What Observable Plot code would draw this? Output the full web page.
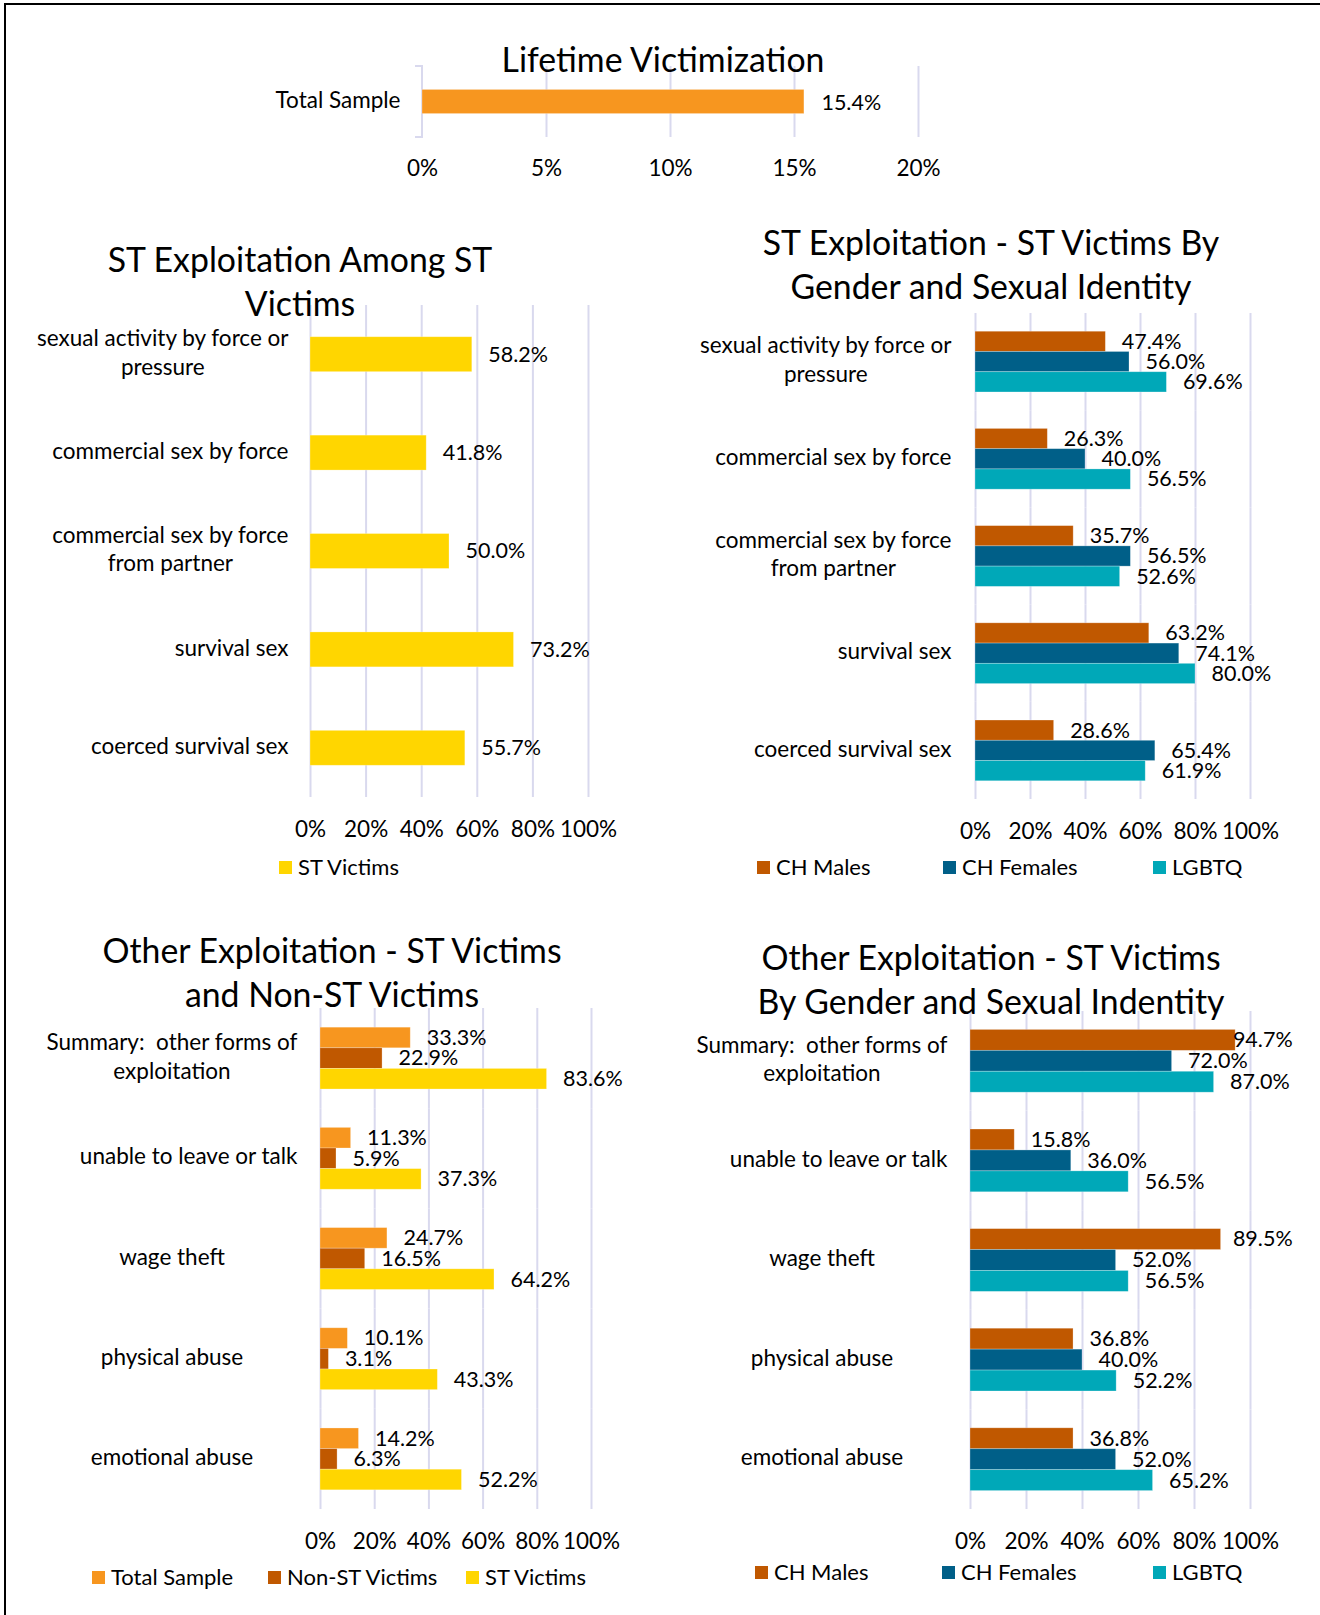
<!DOCTYPE html>
<html>
<head>
<meta charset="utf-8">
<script src="https://cdn.jsdelivr.net/npm/d3@7"></script>
<script src="https://cdn.jsdelivr.net/npm/@observablehq/plot@0.6"></script>
<style>
html, body { margin: 0; padding: 0; background: #fff; }
#page { position: relative; width: 1320px; height: 1615px; overflow: hidden; font-family: Lato, "Noto Sans", sans-serif; color: #000; background: #fff; }
.frameline { position: absolute; left: 4px; top: 3px; width: 1316px; height: 1612px; border-top: 2px solid #000; border-left: 2px solid #000; box-sizing: border-box; }
.title { position: absolute; width: 700px; text-align: center; font-size: 33.8px; line-height: 44px; white-space: nowrap; }
.panel { position: absolute; }
.leg { position: absolute; height: 26px; font-size: 22px; line-height: 26px; display: flex; align-items: center; white-space: nowrap; }
.leg .sw { display: inline-block; width: 13px; height: 13px; margin-right: 6px; }
</style>
</head>
<body>
<div id="page"><div class="frameline"></div></div>
<script>
// ---------------- DATA ----------------
const lifetimeCategories = ["Total Sample"];
const lifetimeValues = [15.4];
const lifetimeTicks = [0, 5, 10, 15, 20];

const stCategories = [
  "sexual activity by force or\npressure",
  "commercial sex by force",
  "commercial sex by force\nfrom partner",
  "survival sex",
  "coerced survival sex"
];
const stVictimsValues = [58.2, 41.8, 50.0, 73.2, 55.7];

const stGenderMales = [47.4, 26.3, 35.7, 63.2, 28.6];
const stGenderFemales = [56.0, 40.0, 56.5, 74.1, 65.4];
const stGenderLGBTQ = [69.6, 56.5, 52.6, 80.0, 61.9];

const otherCategories = [
  "Summary:\u00a0 other forms of\nexploitation",
  "unable to leave or talk",
  "wage theft",
  "physical abuse",
  "emotional abuse"
];
const otherTotalSample = [33.3, 11.3, 24.7, 10.1, 14.2];
const otherNonST = [22.9, 5.9, 16.5, 3.1, 6.3];
const otherSTVictims = [83.6, 37.3, 64.2, 43.3, 52.2];

const otherMales = [94.7, 15.8, 89.5, 36.8, 36.8];
const otherFemales = [72.0, 36.0, 52.0, 40.0, 52.0];
const otherLGBTQ = [87.0, 56.5, 56.5, 52.2, 65.2];

const pctTicks = [0, 20, 40, 60, 80, 100];

// ---------------- STYLE ----------------
const COL = {
  totalSample: "#F7961F",
  nonST: "#C05800",
  stVictims: "#FFD600",
  chMales: "#C05800",
  chFemales: "#005F88",
  lgbtq: "#00A8B8"
};
const gridColor = "#d9d9ee";
const FONT = "Lato, 'Noto Sans', sans-serif";
const VALUE_FS = 21.5;
const LABEL_DY = -3.5;
const fmt = v => v.toFixed(1) + "%";
const page = document.getElementById("page");

function addTitle(lines, cx, top) {
  const d = document.createElement("div");
  d.className = "title";
  lines.forEach((l, i) => {
    if (i) d.appendChild(document.createElement("br"));
    d.appendChild(document.createTextNode(l));
  });
  d.style.left = (cx - 350) + "px";
  d.style.top = top + "px";
  page.appendChild(d);
}

function addLegend(items, y) {
  items.forEach(({name, color, x}) => {
    const d = document.createElement("div");
    d.className = "leg";
    d.style.left = x + "px";
    d.style.top = (y - 13) + "px";
    const sw = document.createElement("span");
    sw.className = "sw";
    sw.style.background = color;
    d.appendChild(sw);
    d.appendChild(document.createTextNode(name));
    page.appendChild(d);
  });
}

function mount(svg, left, top) {
  const wrap = document.createElement("div");
  wrap.className = "panel";
  wrap.style.left = left + "px";
  wrap.style.top = top + "px";
  wrap.appendChild(svg);
  page.appendChild(wrap);
  return svg;
}

// Excel-like category label layout: block right-aligned, lines centred in block;
// some labels centred in the whole label area.
function alignLabels(svg, categories, centered = []) {
  const norm = s => s.replace(/\n/g, "");
  const keys = categories.map(norm);
  const texts = [...svg.querySelectorAll("text")].filter(t => keys.includes(t.textContent));
  const widthOf = t => {
    const ts = [...t.querySelectorAll("tspan")];
    return ts.length ? Math.max(...ts.map(s => s.getComputedTextLength())) : t.getComputedTextLength();
  };
  const maxAll = Math.max(...texts.map(widthOf));
  texts.forEach(t => {
    const cat = categories[keys.indexOf(t.textContent)];
    const ts = [...t.querySelectorAll("tspan")];
    const isCentered = centered.includes(cat);
    if (ts.length > 1 || isCentered) {
      const w = isCentered ? maxAll : widthOf(t);
      t.setAttribute("text-anchor", "middle");
      if (ts.length) ts.forEach(s => s.setAttribute("x", -w / 2));
      else t.setAttribute("x", -w / 2);
    }
  });
}

const baseStyle = {fontFamily: FONT, fontSize: "22.5px", color: "#000", background: "transparent", overflow: "visible"};
const barStroke = {stroke: "#fff", strokeOpacity: 0.35, strokeWidth: 0.75};

// ---------------- PANEL 1: Lifetime Victimization ----------------
{
  const W = 1320, H = 195, mL = 422, mR = 402, mT = 66, mB = 58;
  const pxPerUnit = (W - mL - mR) / 20;
  const step = H - mT - mB;
  const pad = 0.66;
  const bw = step * (1 - pad);
  const ins = -(step - bw) / 2;
  const tickLen = 7;
  const svg = Plot.plot({
    width: W, height: H, marginLeft: mL, marginRight: mR, marginTop: mT, marginBottom: mB,
    style: baseStyle,
    x: {domain: [0, 20], label: null},
    y: {domain: lifetimeCategories, paddingInner: pad, paddingOuter: pad / 2, round: false, axis: null},
    marks: [
      Plot.gridX(lifetimeTicks.slice(1), {stroke: gridColor, strokeOpacity: 1, strokeWidth: 2}),
      // category axis bracket
      Plot.barX(lifetimeCategories, {y: d => d, x1: -tickLen / pxPerUnit, x2: 0, fill: "none",
        stroke: gridColor, strokeWidth: 2, insetTop: ins, insetBottom: ins,
        strokeDasharray: `${2 * tickLen + step} ${step}`}),
      Plot.barX(lifetimeCategories, {y: d => d, x: (d, i) => lifetimeValues[i], fill: COL.totalSample, ...barStroke}),
      Plot.text(lifetimeCategories, {y: d => d, x: (d, i) => lifetimeValues[i], text: (d, i) => fmt(lifetimeValues[i]),
        textAnchor: "start", dx: 17, dy: 1.5, fontSize: VALUE_FS, fill: "#000"}),
      Plot.text(lifetimeCategories, {y: d => d, text: d => d, frameAnchor: "left", textAnchor: "end", dx: -22,
        dy: -1.5, fill: "#000"}),
      Plot.axisX(lifetimeTicks, {tickSize: 0, tickPadding: 23, tickFormat: d => d + "%", label: null, fill: "#000"})
    ]
  });
  mount(svg, 0, 0);
  addTitle(["Lifetime Victimization"], 663, 37);
}

// ---------------- PANEL 2: ST Exploitation Among ST Victims ----------------
{
  const pad = 0.645;
  const svg = Plot.plot({
    width: 660, height: 580, marginLeft: 310, marginRight: 72, marginTop: 25, marginBottom: 63,
    style: baseStyle,
    x: {domain: [0, 100], label: null},
    y: {domain: stCategories, paddingInner: pad, paddingOuter: pad / 2, round: false, axis: null},
    marks: [
      Plot.gridX(pctTicks, {stroke: gridColor, strokeOpacity: 1, strokeWidth: 2}),
      Plot.barX(stCategories, {y: d => d, x: (d, i) => stVictimsValues[i], fill: COL.stVictims, ...barStroke}),
      Plot.text(stCategories, {y: d => d, x: (d, i) => stVictimsValues[i], text: (d, i) => fmt(stVictimsValues[i]),
        textAnchor: "start", dx: 16, fontSize: VALUE_FS, fill: "#000"}),
      Plot.text(stCategories, {y: d => d, text: d => d, frameAnchor: "left", textAnchor: "end", dx: -22,
        dy: LABEL_DY, lineHeight: 1.27, fill: "#000"}),
      Plot.axisX(pctTicks, {tickSize: 0, tickPadding: 24, tickFormat: d => d + "%", label: null, fill: "#000"})
    ]
  });
  mount(svg, 0, 280);
  alignLabels(svg, stCategories);
  addTitle(["ST Exploitation Among ST", "Victims"], 300, 237);
  addLegend([{name: "ST Victims", color: COL.stVictims, x: 279}], 867);
}

// ---------------- grouped chart helper ----------------
function grouped({categories, series, width, height, marginLeft, marginRight, marginTop, marginBottom,
                  labelGap, padOuter, labelClamp = Infinity}) {
  const data = [];
  categories.forEach((c, i) => series.forEach(s => data.push({category: c, series: s.name, value: s.values[i]})));
  return Plot.plot({
    width, height, marginLeft, marginRight, marginTop, marginBottom,
    style: baseStyle,
    x: {domain: [0, 100], label: null},
    fy: {domain: categories, padding: 0, round: false, axis: null, label: null},
    y: {domain: series.map(s => s.name), paddingInner: 0, paddingOuter: padOuter, round: false, axis: null, label: null},
    color: {domain: series.map(s => s.name), range: series.map(s => s.color)},
    marks: [
      Plot.gridX(pctTicks, {stroke: gridColor, strokeOpacity: 1, strokeWidth: 2}),
      Plot.barX(data, {fy: "category", y: "series", x: "value", fill: "series", ...barStroke}),
      Plot.text(data, {fy: "category", y: "series", x: d => Math.min(d.value, labelClamp), text: d => fmt(d.value),
        textAnchor: "start", dx: 16, fontSize: VALUE_FS, fill: "#000"}),
      Plot.text(categories, {fy: d => d, text: d => d, frameAnchor: "left", textAnchor: "end", dx: -labelGap,
        dy: LABEL_DY, lineHeight: 1.27, fill: "#000"}),
      Plot.axisX(pctTicks, {tickSize: 0, tickPadding: 24, tickFormat: d => d + "%", label: null, fill: "#000"})
    ]
  });
}

// ---------------- PANEL 3: ST Exploitation by Gender ----------------
{
  const series = [
    {name: "CH Males", color: COL.chMales, values: stGenderMales},
    {name: "CH Females", color: COL.chFemales, values: stGenderFemales},
    {name: "LGBTQ", color: COL.lgbtq, values: stGenderLGBTQ}
  ];
  const svg = grouped({categories: stCategories, series, width: 660, height: 580,
    marginLeft: 315, marginRight: 70, marginTop: 33, marginBottom: 61, labelGap: 24, padOuter: 0.9});
  mount(svg, 660, 280);
  alignLabels(svg, stCategories);
  addTitle(["ST Exploitation - ST Victims By", "Gender and Sexual Identity"], 991, 220);
  addLegend(series.map((s, i) => ({...s, x: [757, 943, 1153][i]})), 867);
}

// ---------------- PANEL 4: Other Exploitation ST vs Non-ST ----------------
{
  const series = [
    {name: "Total Sample", color: COL.totalSample, values: otherTotalSample},
    {name: "Non-ST Victims", color: COL.nonST, values: otherNonST},
    {name: "ST Victims", color: COL.stVictims, values: otherSTVictims}
  ];
  const svg = grouped({categories: otherCategories, series, width: 660, height: 600,
    marginLeft: 320, marginRight: 69, marginTop: 28, marginBottom: 71, labelGap: 23, padOuter: 0.93});
  mount(svg, 0, 980);
  alignLabels(svg, otherCategories, ["wage theft", "physical abuse", "emotional abuse"]);
  addTitle(["Other Exploitation - ST Victims", "and Non-ST Victims"], 332, 928);
  addLegend(series.map((s, i) => ({...s, x: [92, 268, 466][i]})), 1577);
}

// ---------------- PANEL 5: Other Exploitation by Gender ----------------
{
  const series = [
    {name: "CH Males", color: COL.chMales, values: otherMales},
    {name: "CH Females", color: COL.chFemales, values: otherFemales},
    {name: "LGBTQ", color: COL.lgbtq, values: otherLGBTQ}
  ];
  const svg = grouped({categories: otherCategories, series, width: 660, height: 600,
    marginLeft: 310, marginRight: 70, marginTop: 31, marginBottom: 71, labelGap: 23, padOuter: 0.88,
    labelClamp: 88});
  mount(svg, 660, 980);
  alignLabels(svg, otherCategories, ["wage theft", "physical abuse", "emotional abuse"]);
  addTitle(["Other Exploitation - ST Victims", "By Gender and Sexual Indentity"], 991, 935);
  addLegend(series.map((s, i) => ({...s, x: [755, 942, 1153][i]})), 1572);
}
</script>
</body>
</html>
